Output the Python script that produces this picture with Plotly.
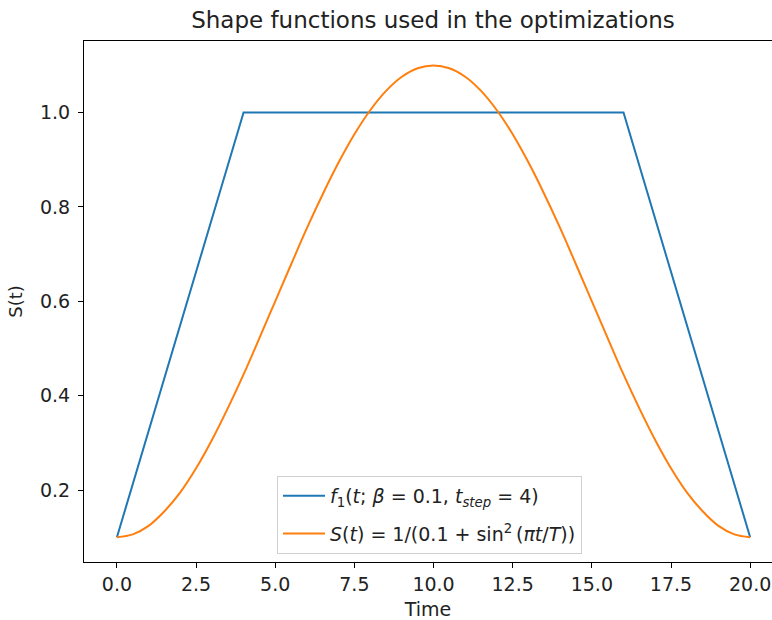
import plotly.graph_objects as go

# Blue trapezoid shape function
t_step = [0, 4, 16, 20]
f1_vals = [0.1, 1.0, 1.0, 0.1]

# Orange curve values (every 0.5 time units)
t_s = [0, 0.5, 1, 1.5, 2, 2.5, 3, 3.5, 4, 4.5, 5, 5.5, 6, 6.5, 7, 7.5, 8, 8.5, 9, 9.5,
       10, 10.5, 11, 11.5, 12, 12.5, 13, 13.5, 14, 14.5, 15, 15.5, 16, 16.5, 17, 17.5,
       18, 18.5, 19, 19.5, 20]
s_vals = [0.1, 0.106, 0.124, 0.155, 0.195, 0.246, 0.306, 0.373, 0.445, 0.522, 0.6,
          0.678, 0.755, 0.827, 0.894, 0.954, 1.005, 1.046, 1.076, 1.094, 1.1,
          1.094, 1.076, 1.046, 1.005, 0.954, 0.894, 0.827, 0.755, 0.678, 0.6,
          0.522, 0.445, 0.373, 0.306, 0.246, 0.195, 0.155, 0.124, 0.106, 0.1]

x_ticks = [0, 2.5, 5, 7.5, 10, 12.5, 15, 17.5, 20]
y_ticks = [0.2, 0.4, 0.6, 0.8, 1.0]

font = "DejaVu Sans"

fig = go.Figure()
fig.add_trace(go.Scatter(
    x=t_step, y=f1_vals, mode="lines", legendgroup="a",
    line=dict(color="#1f77b4", width=2),
    name="<i>f</i><sub>1</sub>(<i>t</i>; <i>β</i> = 0.1, <i>t</i><sub><i>step</i></sub> = 4)",
))
fig.add_trace(go.Scatter(
    x=t_s, y=s_vals, mode="lines", legendgroup="b",
    line=dict(color="#ff7f0e", width=2, shape="spline"),
    name="<i>S</i>(<i>t</i>) = 1/(0.1 + sin<sup>2</sup>\u2009(<i>πt</i>/<i>T</i>))",
))

fig.update_layout(
    width=772, height=620,
    margin=dict(l=84, r=0, t=41, b=58),
    paper_bgcolor="white", plot_bgcolor="white",
    font=dict(family=font, size=19, color="#222"),
    title=dict(text="Shape functions used in the optimizations",
               x=433 / 772, xanchor="center", y=1 - 20 / 620, yanchor="middle",
               font=dict(size=23, color="#222")),
    showlegend=True,
    legend=dict(x=(277 - 84) / 688, y=(562 - 554) / 521, xanchor="left", yanchor="bottom",
                bgcolor="rgba(255,255,255,0.85)", bordercolor="#d0d0d0", borderwidth=1,
                font=dict(size=19, color="#222"), tracegroupgap=10, itemwidth=42,
                traceorder="grouped"),
)
fig.update_xaxes(
    range=[-1.04, 20.69], tickvals=x_ticks, tickformat=".1f",
    showgrid=False, zeroline=False, showline=True, linecolor="black", linewidth=1,
    mirror=True, ticks="outside", ticklen=5, tickcolor="black",
    tickfont=dict(size=19),
    title=dict(text="Time", font=dict(size=19), standoff=8),
)
fig.update_yaxes(
    range=[0.0475, 1.1517], tickvals=y_ticks, tickformat=".1f",
    showgrid=False, zeroline=False, showline=True, linecolor="black", linewidth=1,
    ticks="outside", ticklen=5, tickcolor="black", ticklabelstandoff=4,
    tickfont=dict(size=19),
    title=dict(text="S(t)", font=dict(size=18), standoff=12),
)

fig.write_html("out.html")
